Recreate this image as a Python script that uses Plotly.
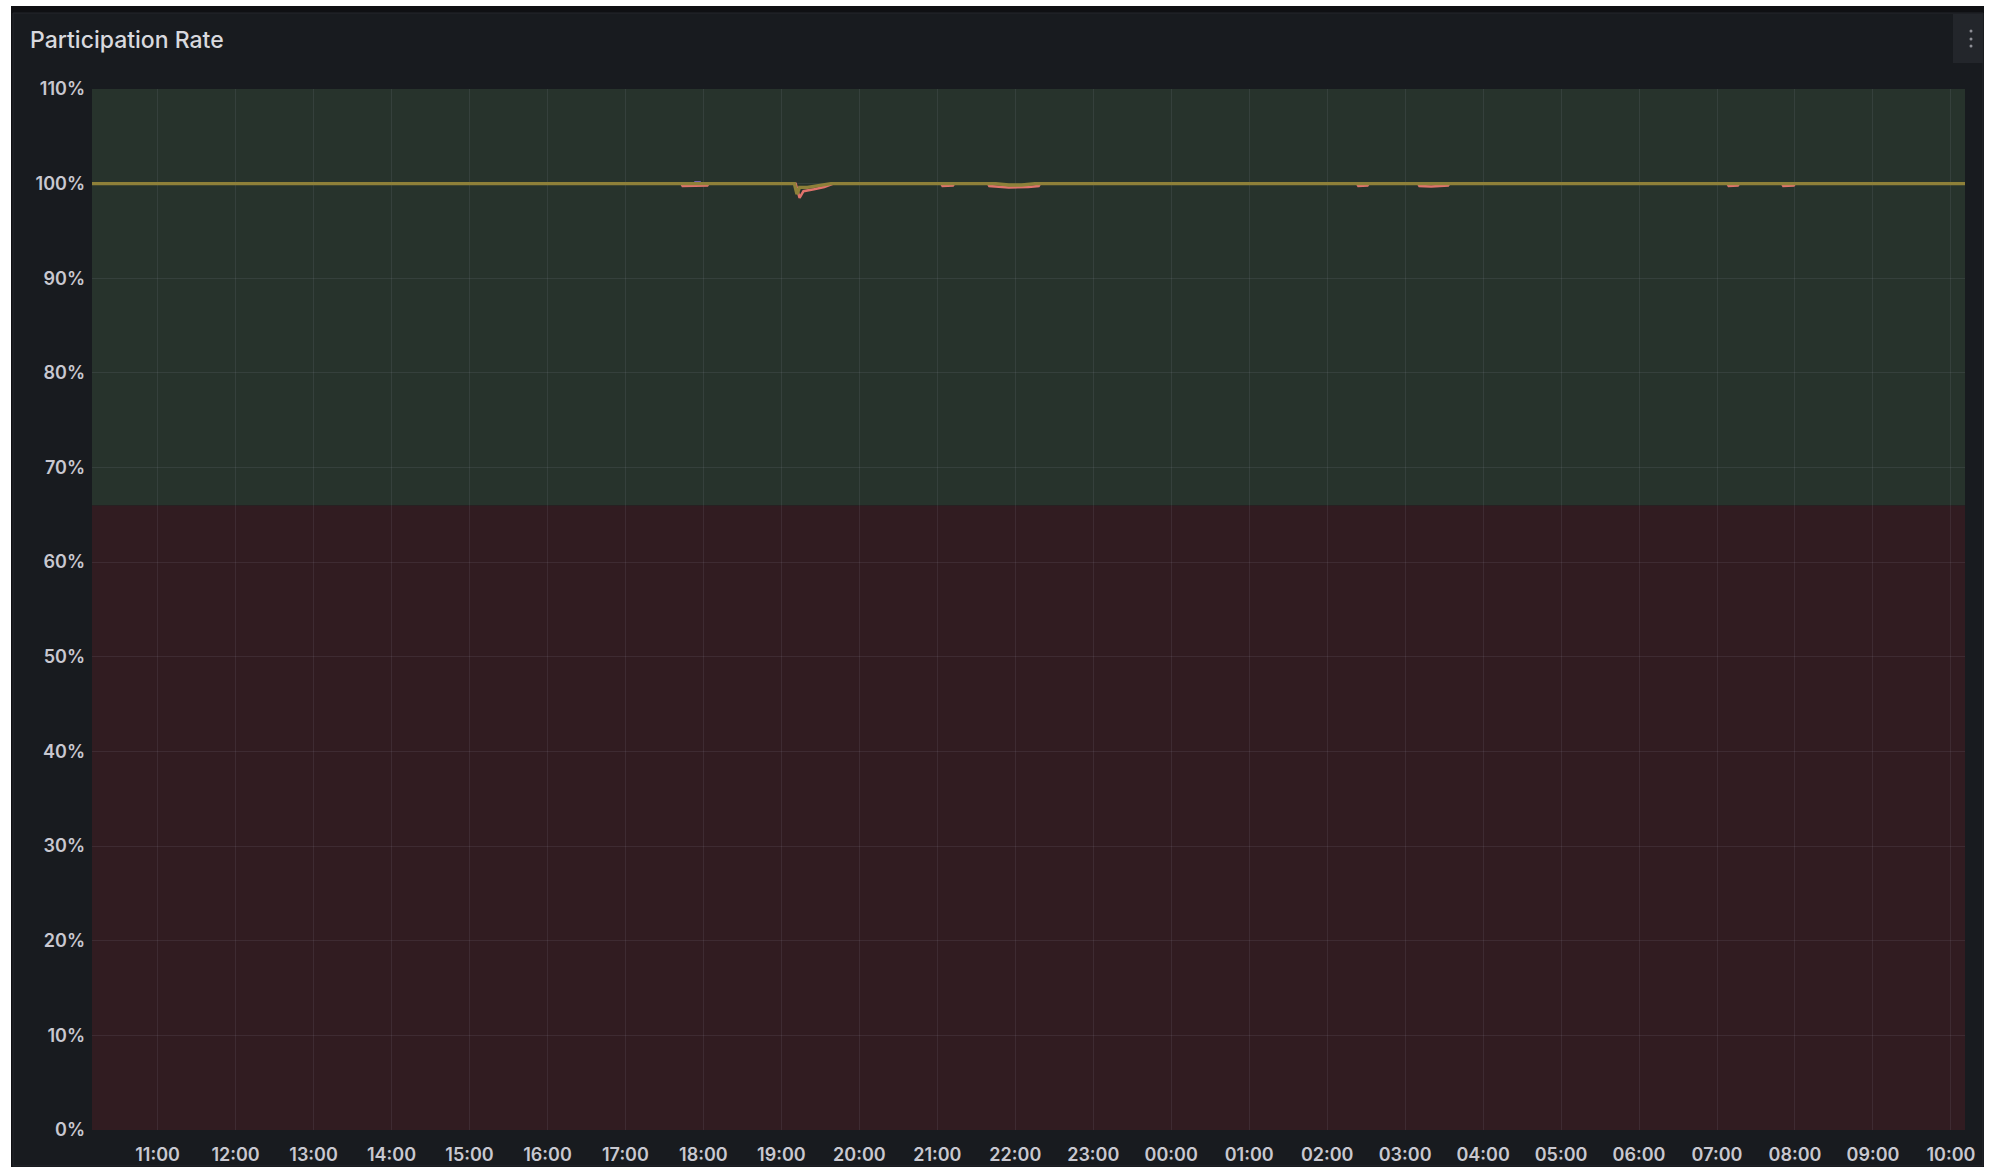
import plotly.graph_objects as go

# ---------------- data ----------------
x_start = "2024-05-01 10:09:30"
x_end = "2024-05-02 10:10:50"

# main (olive) series
main_times = ["2024-05-01 10:09:30", "2024-05-01 19:10:00", "2024-05-01 19:12:00",
              "2024-05-01 19:14:00", "2024-05-01 19:20:00", "2024-05-01 19:30:00",
              "2024-05-01 19:38:00", "2024-05-01 21:45:00", "2024-05-01 21:55:00",
              "2024-05-01 22:05:00", "2024-05-01 22:15:00", "2024-05-02 10:10:50"]
main_values = [100, 100, 98.9, 99.6, 99.6, 99.8, 100, 100, 99.85, 99.85, 100, 100]

# second (salmon) series
second_times = ["2024-05-01 10:09:30",
                "2024-05-01 17:43:00", "2024-05-01 17:44:00", "2024-05-01 18:03:00", "2024-05-01 18:04:00",
                "2024-05-01 19:11:00", "2024-05-01 19:14:00", "2024-05-01 19:17:00", "2024-05-01 19:25:00",
                "2024-05-01 19:33:00", "2024-05-01 19:40:00",
                "2024-05-01 21:03:00", "2024-05-01 21:04:00", "2024-05-01 21:12:00", "2024-05-01 21:13:00",
                "2024-05-01 21:39:00", "2024-05-01 21:40:00", "2024-05-01 21:55:00", "2024-05-01 22:10:00",
                "2024-05-01 22:18:00", "2024-05-01 22:19:00",
                "2024-05-02 02:23:00", "2024-05-02 02:24:00", "2024-05-02 02:31:00", "2024-05-02 02:32:00",
                "2024-05-02 03:10:00", "2024-05-02 03:11:00", "2024-05-02 03:20:00", "2024-05-02 03:33:00",
                "2024-05-02 03:34:00",
                "2024-05-02 07:08:00", "2024-05-02 07:09:00", "2024-05-02 07:16:00", "2024-05-02 07:17:00",
                "2024-05-02 07:50:00", "2024-05-02 07:51:00", "2024-05-02 07:59:00", "2024-05-02 08:00:00",
                "2024-05-02 10:10:50"]
second_values = [100,
                 100, 99.75, 99.8, 100,
                 100, 98.5, 99.2, 99.4,
                 99.65, 100,
                 100, 99.75, 99.8, 100,
                 100, 99.75, 99.6, 99.65,
                 99.75, 100,
                 100, 99.75, 99.8, 100,
                 100, 99.75, 99.7, 99.8,
                 100,
                 100, 99.75, 99.8, 100,
                 100, 99.75, 99.8, 100,
                 100]

# third (purple) series - tiny visible segment near 18:00
third_times = ["2024-05-01 17:53:00", "2024-05-01 17:58:00"]
third_values = [100.15, 100.15]

threshold = 66
y_min, y_max = 0, 110

# ---------------- figure ----------------
W, H = 2000, 1173
L, R, T, B = 92, 1965, 89, 1130  # plot area in pixels


def px(xp):
    return (xp - L) / (R - L)


def py(yp):
    return (B - yp) / (B - T)


fig = go.Figure()

fig.add_trace(go.Scatter(x=second_times, y=second_values, mode="lines",
                         line=dict(color="#e0736b", width=2.5), name="B",
                         hoverinfo="skip"))
fig.add_trace(go.Scatter(x=third_times, y=third_values, mode="lines",
                         line=dict(color="#8a6fd6", width=2), name="C",
                         hoverinfo="skip"))
fig.add_trace(go.Scatter(x=main_times, y=main_values, mode="lines",
                         line=dict(color="#8e8039", width=3.4), name="A",
                         hoverinfo="skip"))

shapes = [
    # outer panel frame
    dict(type="rect", xref="paper", yref="paper", x0=px(11), x1=px(1984), y0=py(1167), y1=py(6),
         fillcolor="#0f1013", line=dict(width=0), layer="below"),
    dict(type="rect", xref="paper", yref="paper", x0=px(13), x1=px(1983), y0=py(1166), y1=py(13),
         fillcolor="#181b1f", line=dict(color="#24272c", width=1), layer="below"),
    # threshold bands
    dict(type="rect", xref="paper", yref="y", x0=0, x1=1, y0=threshold, y1=y_max,
         fillcolor="#27332c", line=dict(width=0), layer="below"),
    dict(type="rect", xref="paper", yref="y", x0=0, x1=1, y0=y_min, y1=threshold,
         fillcolor="#311c21", line=dict(width=0), layer="below"),
    # menu button
    dict(type="rect", xref="paper", yref="paper", x0=px(1953), x1=px(1983), y0=py(63), y1=py(14),
         fillcolor="#23262b", line=dict(width=0), layer="above"),
]
for dy in (31, 39, 46):
    shapes.append(dict(type="circle", xref="paper", yref="paper",
                       x0=px(1969.5), x1=px(1972.5), y0=py(dy + 1.5), y1=py(dy - 1.5),
                       fillcolor="#8e8f96", line=dict(width=0), layer="above"))

fig.update_layout(
    width=W, height=H,
    margin=dict(l=L, r=W - R, t=T, b=H - B, autoexpand=False),
    paper_bgcolor="#ffffff",
    plot_bgcolor="#181b1f",
    showlegend=False,
    shapes=shapes,
    font=dict(family="Inter, Roboto, sans-serif", color="#c8c8d0"),
    annotations=[dict(text="Participation Rate", xref="paper", yref="paper",
                      x=px(28), y=py(40), xanchor="left", yanchor="middle",
                      showarrow=False,
                      font=dict(family="Inter", size=23, color="#d8d9de", weight=500))],
)

fig.update_xaxes(
    type="date", range=[x_start, x_end], automargin=False,
    tickformat="%H:%M", dtick=3600000, tick0="2024-05-01 11:00:00",
    showgrid=True, gridcolor="rgba(204,204,220,0.09)", gridwidth=1,
    zeroline=False, showline=False, ticks="",
    tickfont=dict(family="Inter", size=18, color="#c8c8d0", weight=600),
    ticklabelstandoff=12,
)
fig.update_yaxes(
    range=[y_min, y_max], dtick=10, tick0=0, ticksuffix="%", automargin=False,
    showgrid=True, gridcolor="rgba(204,204,220,0.09)", gridwidth=1,
    zeroline=False, showline=False, ticks="",
    tickfont=dict(family="Inter", size=18, color="#c8c8d0", weight=600),
    ticklabelstandoff=6,
)

fig.write_html("out.html", config={"displayModeBar": False},
               post_script="document.body.style.margin='0';")
